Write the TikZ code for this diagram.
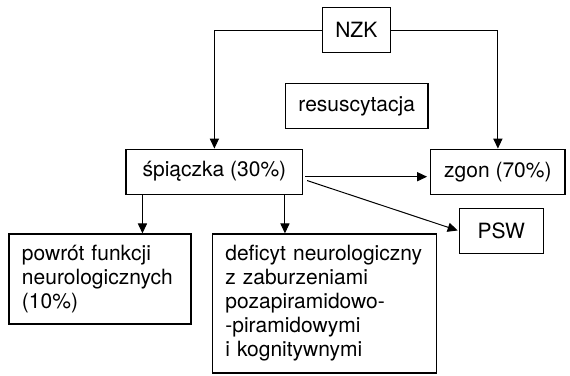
\documentclass[tikz,border=0pt]{standalone}
\usepackage{fontspec}
\setmainfont{TeX Gyre Heros}
\usetikzlibrary{arrows.meta}

\tikzset{
  box/.style={draw, line width=0.65pt, minimum height=22.5pt, inner xsep=6.5pt,
    font=\fontsize{10.5}{12}\selectfont},
  arr/.style={line width=0.5pt, ->, >={Triangle[length=5pt,width=4.6pt]}}
}

\begin{document}
\begin{tikzpicture}[x=0.5pt, y=-0.5pt]
\useasboundingbox (0,0) rectangle (570,376);

\node[box, minimum width=33pt] (nzk) at (356.3,30) {NZK};
\node[box, minimum width=70pt] (resus) at (356.7,106.2) {resuscytacja};
\node[box, minimum width=88.3pt] (coma) at (214.4,171.7) {śpiączka (30\%)};
\node[box, minimum width=67.2pt] (death) at (497.9,171.7) {zgon (70\%)};
\node[box, minimum width=42pt] (psw) at (501.3,230.8) {PSW};
\node[box, text width=78pt, align=left, minimum height=45pt] (recov) at (100,279)
  {powrót funkcji\\neurologicznych\\(10\%)};
\node[box, text width=99pt, align=left, minimum height=69.5pt] (deficit) at (324.4,303.5)
  {deficyt neurologiczny\\z zaburzeniami\\pozapiramidowo-\\-piramidowymi\\i kognitywnymi};

% NZK splits left and right
\draw[arr] (nzk.west) -| (coma.north);
\draw[arr] (nzk.east) -| (death.north);

% out of the coma
\draw[arr, shorten <=1pt, shorten >=1.5pt] ([yshift=-2.5pt]coma.east) -- ([yshift=-2.5pt]death.west);
\draw[arr, shorten <=2pt, shorten >=0.5pt] ([yshift=-3.8pt]coma.east) -- (psw.west);
\draw[arr] ([xshift=8.5pt]coma.south west) coordinate (c1) -- (c1 |- recov.north);
\draw[arr] ([xshift=-9.2pt]coma.south east) coordinate (c2) -- (c2 |- deficit.north);
\end{tikzpicture}
\end{document}
